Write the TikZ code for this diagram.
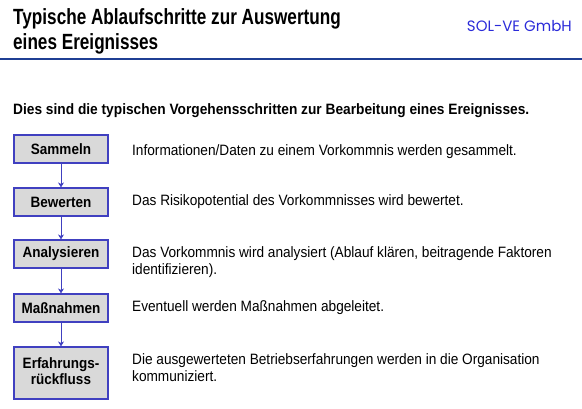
\documentclass[tikz,border=0pt]{standalone}
\usepackage{fontspec}
\setmainfont{Liberation Sans}
\newfontfamily\logofont{Poppins}
\usetikzlibrary{arrows.meta}
\definecolor{ruleblue}{HTML}{1F3F94}
\definecolor{boxblue}{HTML}{4040C0}
\definecolor{boxgray}{HTML}{D9D9D9}
\definecolor{logoblue}{HTML}{2B2BD9}
\newcommand{\sqz}[2][0.91]{\scalebox{#1}[1]{#2}}

\begin{document}
\begin{tikzpicture}[x=1pt, y=-1pt,
    stepbox/.style={draw=boxblue, fill=boxgray, line width=1.2pt, minimum width=94pt, minimum height=28pt, inner sep=0pt, font=\bfseries\fontsize{15}{16.5}\selectfont},
    desc/.style={anchor=base west, inner sep=0pt, font=\fontsize{15}{16.3}\selectfont},
    flow/.style={-{Stealth[length=5pt, width=6pt]}, boxblue, line width=0.9pt}]
  \useasboundingbox (0,0) rectangle (582,409);
  % Header
  \node[anchor=base west, inner sep=0pt, font=\bfseries\fontsize{22}{25}\selectfont] (title) at (13,25) {\sqz[0.78]{Typische Ablaufschritte zur Auswertung}};
  \node[anchor=base west, inner sep=0pt, font=\bfseries\fontsize{22}{25}\selectfont] (title2) at (13,50) {\sqz[0.78]{eines Ereignisses}};
  \node[anchor=base east, inner sep=0pt, font=\logofont\fontsize{15}{18}\selectfont, text=logoblue] (logo) at (572,31.5) {SOL-VE GmbH};
  \draw[ruleblue, line width=2pt] (0,59.5) -- (582,59.5);
  \node[anchor=base west, inner sep=0pt, font=\bfseries\fontsize{15}{18}\selectfont] (intro) at (13,115) {\sqz[0.915]{Dies sind die typischen Vorgehensschritten zur Bearbeitung eines Ereignisses.}};

  % Steps
  \node[stepbox] (sammeln) at (61,149) {\sqz[0.9]{Sammeln}};
  \node[stepbox] (bewerten) at (61,202) {\sqz[0.9]{Bewerten}};
  \node[stepbox] (analyse) at (61,254) {\sqz[0.9]{Analysieren}};
  \node[stepbox] (massnahmen) at (61,308) {\sqz[0.9]{Maßnahmen}};
  \node[stepbox, minimum height=52pt] (rueckfluss) at (61,373) {\sqz[0.9]{\begin{tabular}{@{}c@{}}Erfahrungs-\\rückfluss\end{tabular}}};

  \draw[flow] (sammeln) -- (bewerten);
  \draw[flow] (bewerten) -- (analyse);
  \draw[flow] (analyse) -- (massnahmen);
  \draw[flow] (massnahmen) -- (rueckfluss);

  % Descriptions
  \node[desc] (d1) at (132,155.5) {\sqz{Informationen/Daten zu einem Vorkommnis werden gesammelt.}};
  \node[desc] (d2) at (132,206) {\sqz{Das Risikopotential des Vorkommnisses wird bewertet.}};
  \node[desc] (d3) at (132,258) {\sqz{\begin{tabular}[t]{@{}l@{}}Das Vorkommnis wird analysiert (Ablauf klären, beitragende Faktoren\\identifizieren).\end{tabular}}};
  \node[desc] (d4) at (132,311.7) {\sqz{Eventuell werden Maßnahmen abgeleitet.}};
  \node[desc] (d5) at (132,365) {\sqz{\begin{tabular}[t]{@{}l@{}}Die ausgewerteten Betriebserfahrungen werden in die Organisation\\kommuniziert.\end{tabular}}};
\end{tikzpicture}
\end{document}
